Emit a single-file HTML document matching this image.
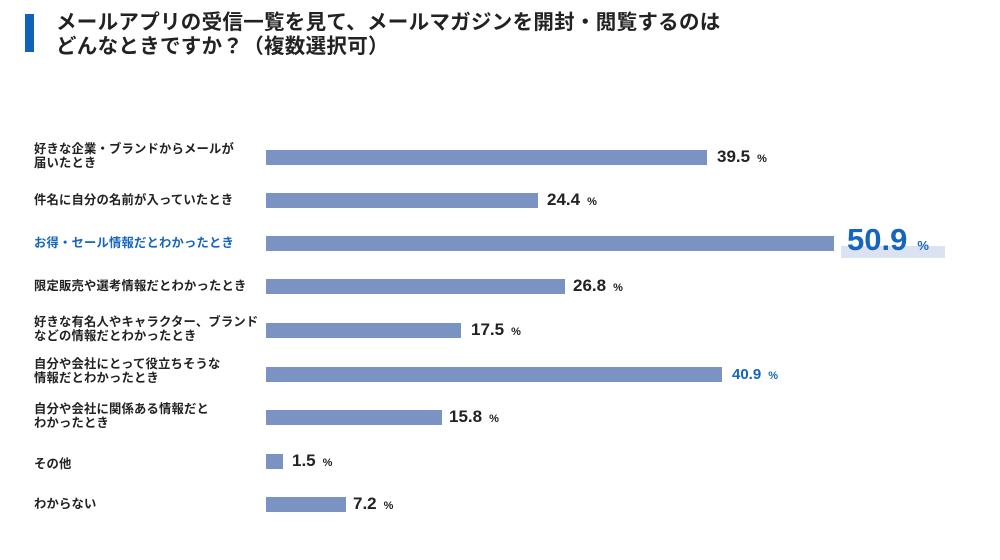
<!DOCTYPE html>
<html><head><meta charset="utf-8"><style>
body{margin:0;width:1000px;height:560px;background:#fff;font-family:"Liberation Sans","Noto Sans CJK JP",sans-serif;position:relative;overflow:hidden;color:#222}
.t{position:absolute;left:56px;font-size:20.5px;font-weight:bold;line-height:24px;top:11px;letter-spacing:0.3px}
.mk{position:absolute;left:25px;top:14px;width:9px;height:38px;background:#0f62b8}
.l{position:absolute;left:34px;font-size:12.3px;font-weight:bold;line-height:14px;letter-spacing:0.2px}
.b{position:absolute;left:266px;height:15px;background:#7a93c2}
.v{position:absolute;font-size:17px;font-weight:bold;line-height:18px}
.v small{font-size:11px;margin-left:7px}
</style></head><body>
<div class="mk"></div>
<div class="t">メールアプリの受信一覧を見て、メールマガジンを開封・閲覧するのは<br>どんなときですか？（複数選択可）</div>

<div class="l" style="top:142px">好きな企業・ブランドからメールが<br>届いたとき</div>
<div class="b" style="top:150px;width:441px"></div>
<div class="v" style="left:717px;top:148px">39.5<small>%</small></div>

<div class="l" style="top:193px">件名に自分の名前が入っていたとき</div>
<div class="b" style="top:193px;width:272px"></div>
<div class="v" style="left:547px;top:191px">24.4<small>%</small></div>

<div class="l" style="top:236px;color:#1565c0">お得・セール情報だとわかったとき</div>
<div class="b" style="top:236px;width:568px"></div>
<div style="position:absolute;left:841px;top:246px;width:104px;height:12px;background:#dbe3f2"></div>
<div class="v" style="left:847px;top:224px;font-size:31px;line-height:32px;color:#1565c0">50.9<small style="font-size:13px;margin-left:10px">%</small></div>

<div class="l" style="top:279px">限定販売や選考情報だとわかったとき</div>
<div class="b" style="top:279px;width:299px"></div>
<div class="v" style="left:573px;top:277px">26.8<small>%</small></div>

<div class="l" style="top:315px">好きな有名人やキャラクター、ブランド<br>などの情報だとわかったとき</div>
<div class="b" style="top:323px;width:195px"></div>
<div class="v" style="left:471px;top:321px">17.5<small>%</small></div>

<div class="l" style="top:357px">自分や会社にとって役立ちそうな<br>情報だとわかったとき</div>
<div class="b" style="top:367px;width:456px"></div>
<div class="v" style="left:732px;top:366px;color:#1565c0;font-size:15px">40.9<small>%</small></div>

<div class="l" style="top:402px">自分や会社に関係ある情報だと<br>わかったとき</div>
<div class="b" style="top:410px;width:176px"></div>
<div class="v" style="left:449px;top:408px">15.8<small>%</small></div>

<div class="l" style="top:457px">その他</div>
<div class="b" style="top:454px;width:17px"></div>
<div class="v" style="left:292px;top:452px">1.5<small>%</small></div>

<div class="l" style="top:497px">わからない</div>
<div class="b" style="top:497px;width:80px"></div>
<div class="v" style="left:353px;top:495px">7.2<small>%</small></div>
</body></html>
